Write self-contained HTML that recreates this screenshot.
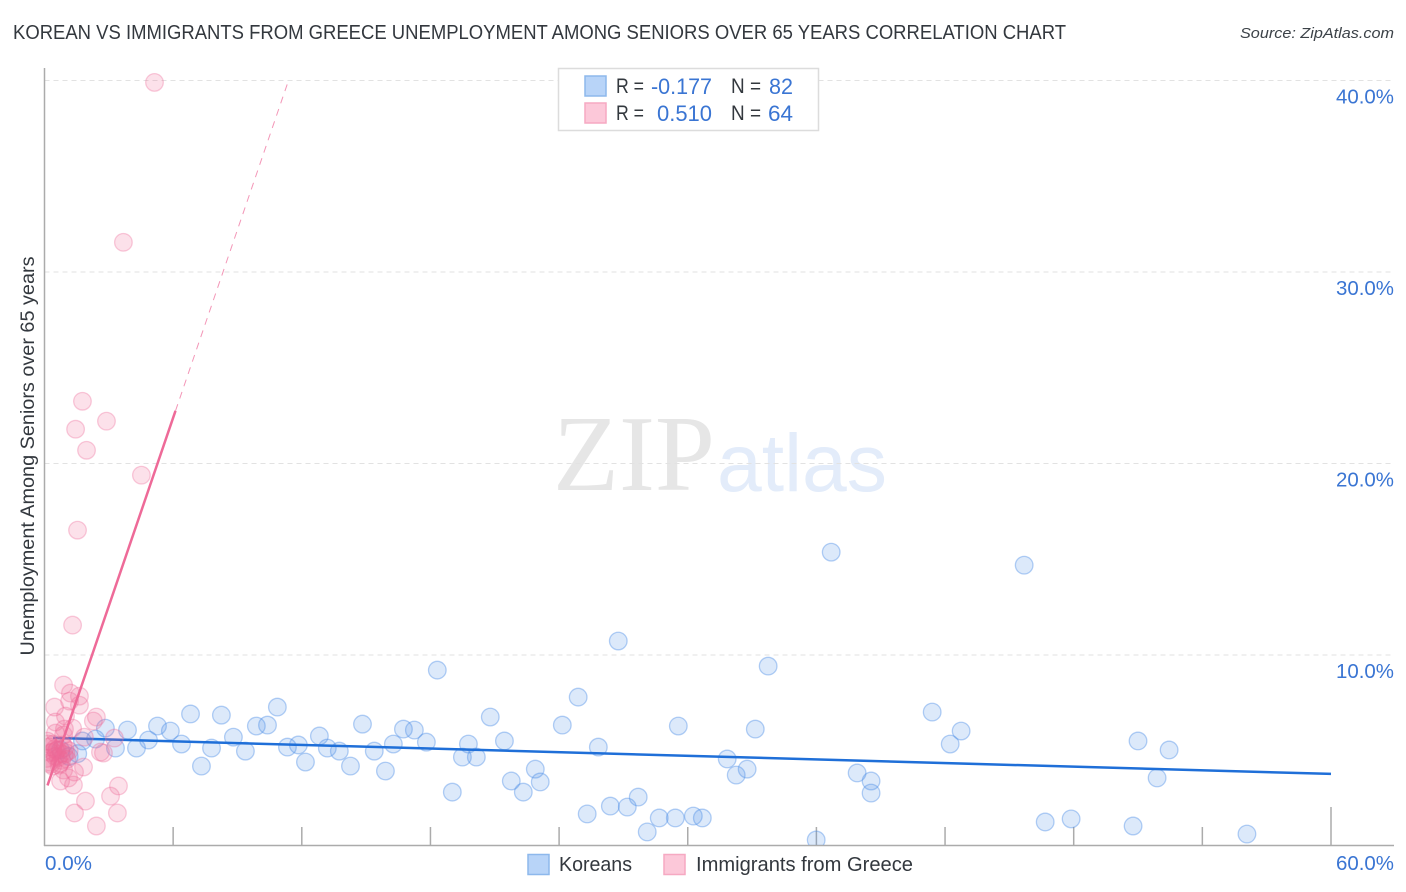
<!DOCTYPE html>
<html>
<head>
<meta charset="utf-8">
<title>Korean vs Immigrants from Greece Unemployment Correlation Chart</title>
<style>
html,body{margin:0;padding:0;background:#fff;width:1406px;height:892px;overflow:hidden}
svg{display:block;font-family:"Liberation Sans",sans-serif}
</style>
</head>
<body>
<svg id="chart" width="1406" height="892" viewBox="0 0 1406 892" xmlns="http://www.w3.org/2000/svg">
  <defs>
    <clipPath id="plot-clip"><rect x="45.5" y="60" width="1350" height="785"/></clipPath>
  </defs>
  <text x="13" y="39" font-size="20" fill="#33383e" textLength="1053" lengthAdjust="spacingAndGlyphs">KOREAN VS IMMIGRANTS FROM GREECE UNEMPLOYMENT AMONG SENIORS OVER 65 YEARS CORRELATION CHART</text>
  <text x="1394" y="38" font-size="15" font-style="italic" fill="#3c4248" text-anchor="end" textLength="154" lengthAdjust="spacingAndGlyphs">Source: ZipAtlas.com</text>
  <g>
    <text x="553" y="490" font-family="Liberation Serif" font-size="108" fill="#e6e6e6" textLength="162" lengthAdjust="spacingAndGlyphs">ZIP</text>
    <text x="717" y="491" font-size="82" fill="#e3ecfa" textLength="170" lengthAdjust="spacingAndGlyphs">atlas</text>
  </g>
  <g id="grid"></g>
  <g id="axes"></g>
  <g id="marks" clip-path="url(#plot-clip)"></g>
  <g>
    <rect x="558.5" y="68.5" width="260" height="62" fill="#fff" stroke="#dcdcdc" stroke-width="1.5"/>
    <rect x="585" y="76" width="21" height="20" fill="#b8d4f8" stroke="#8db8ec" stroke-width="1.5"/>
    <rect x="585" y="103" width="21" height="20" fill="#fcc8d9" stroke="#f6a9c2" stroke-width="1.5"/>
    <g font-size="21" fill="#33383e">
      <text x="616" y="93" textLength="28" lengthAdjust="spacingAndGlyphs">R =</text>
      <text x="616" y="120" textLength="28" lengthAdjust="spacingAndGlyphs">R =</text>
      <text x="731" y="93" textLength="30" lengthAdjust="spacingAndGlyphs">N =</text>
      <text x="731" y="120" textLength="30" lengthAdjust="spacingAndGlyphs">N =</text>
    </g>
    <g font-size="22" fill="#3a75d3">
      <text x="651" y="94" textLength="61" lengthAdjust="spacingAndGlyphs">-0.177</text>
      <text x="657" y="121" textLength="55" lengthAdjust="spacingAndGlyphs">0.510</text>
      <text x="769" y="94" textLength="24" lengthAdjust="spacingAndGlyphs">82</text>
      <text x="768" y="121" textLength="25" lengthAdjust="spacingAndGlyphs">64</text>
    </g>
  </g>
  <g>
    <rect x="528" y="854.5" width="21" height="20" fill="#b8d4f8" stroke="#8db8ec" stroke-width="1.5"/>
    <text x="559" y="871" font-size="20" fill="#33383e" textLength="73" lengthAdjust="spacingAndGlyphs">Koreans</text>
    <rect x="664" y="854.5" width="21" height="20" fill="#fcc8d9" stroke="#f6a9c2" stroke-width="1.5"/>
    <text x="696" y="871" font-size="20" fill="#33383e" textLength="217" lengthAdjust="spacingAndGlyphs">Immigrants from Greece</text>
  </g>
  <text transform="translate(34,456) rotate(-90)" text-anchor="middle" font-size="19" fill="#33383e" textLength="399" lengthAdjust="spacingAndGlyphs">Unemployment Among Seniors over 65 years</text>
</svg>
<script>
// Chart data: percentages
const yTickValues = [10, 20, 30, 40];
const yTickLabels = ["10.0%", "20.0%", "30.0%", "40.0%"];
const xTickValues = [6, 12, 18, 24, 30, 36, 42, 48, 54, 60];
const xEndLabels = ["0.0%", "60.0%"];

const koreansX = [36.69,45.69,26.76,18.32,33.75,24.89,10.86,6.81,8.25,20.79,41.40,42.75,14.83,24.15,29.56,33.15,16.74,17.25,10.40,9.88,5.27,3.87,2.84,5.87,8.81,12.82,4.85,2.38,1.77,6.39,7.79,4.29,3.31,9.37,11.33,11.84,13.19,13.75,15.38,16.27,17.81,19.77,21.45,25.83,42.24,51.0,52.45,31.84,19.49,20.14,12.17,14.27,7.32,15.90,22.89,37.90,32.77,32.26,21.77,23.12,51.89,38.55,19.02,22.33,38.55,27.69,26.39,27.18,25.31,30.26,28.67,29.42,30.68,28.11,35.99,46.67,47.88,50.77,56.08,0.75,1.15,1.55];
const koreansY = [15.37,14.69,10.73,9.21,9.42,7.80,7.28,6.92,6.86,6.76,7.02,6.03,6.39,6.34,6.29,6.13,6.13,6.08,6.34,6.29,6.29,6.08,6.18,6.03,5.71,5.77,5.56,5.61,5.51,5.35,5.14,5.14,5.14,4.98,5.19,5.30,5.14,4.98,4.98,5.35,5.45,5.35,5.51,5.19,5.35,5.51,5.04,4.57,4.67,4.67,4.41,4.20,4.20,3.94,4.04,3.84,4.04,3.73,3.42,3.37,3.58,3.42,2.84,2.84,2.79,2.58,2.11,2.06,1.70,1.59,1.49,1.49,1.49,0.76,0.34,1.28,1.44,1.07,0.65,5.04,4.70,4.85];

const greeceX = [5.13,3.68,1.77,2.89,1.45,1.96,4.52,1.54,1.31,0.89,1.21,1.63,1.63,0.47,1.17,0.98,2.42,2.28,0.51,1.31,0.93,0.51,0.89,3.26,1.86,2.75,2.61,1.82,3.45,3.08,1.91,1.40,3.40,2.42,1.35,0.75,1.12,1.40,0.89,0.14,0.22,0.30,0.10,0.42,0.60,0.25,0.50,0.78,0.95,0.72,0.38,1.05,0.18,0.55,0.85,0.64,0.40,0.30,0.80,0.48,0.92,1.00,0.68,1.15];
const greeceY = [39.90,31.55,23.25,22.21,21.79,20.69,19.39,16.52,11.56,8.43,8.01,7.85,7.38,7.28,7.59,6.81,6.76,6.55,6.50,6.18,6.13,5.92,5.82,5.66,5.71,4.88,4.93,4.15,3.16,2.63,2.37,1.75,1.75,1.07,3.21,3.42,3.58,3.89,3.99,5.50,5.20,4.90,4.60,5.35,5.05,4.40,4.70,4.85,5.15,4.35,4.20,4.55,5.35,5.00,5.30,4.65,4.95,4.30,4.50,5.10,4.80,4.90,4.25,5.00];

const koreansTrendX = [0.4, 60];
const koreansTrendY = [5.67, 3.79];
const greeceTrendX = [0.14, 6.11];
const greeceTrendY = [3.19, 22.75];
const greeceDashX = [6.11, 11.38];
const greeceDashY = [22.75, 40.0];

const NS = "http://www.w3.org/2000/svg";
function xScale(v) { return 44.5 + v * (1331 - 44.5) / 60; }
function yScale(v) { return 846.5 - v * 19.15; }

function mk(tag, attrs, parent) {
  const el = document.createElementNS(NS, tag);
  for (const k in attrs) el.setAttribute(k, attrs[k]);
  parent.appendChild(el);
  return el;
}

const grid = document.getElementById("grid");
const axes = document.getElementById("axes");
const marks = document.getElementById("marks");

yTickValues.forEach(function (v, i) {
  const line = mk("line", { x1: 44.5, x2: 1394, y1: yScale(v), y2: yScale(v), stroke: "#e2e2e2", "stroke-width": 1, "stroke-dasharray": "5 4" }, grid);
  
  
  const label = mk("text", { x: 1394, y: yScale(v) + 23, "text-anchor": "end", "font-size": 20, fill: "#3a75d3", textLength: 58, lengthAdjust: "spacingAndGlyphs" }, axes);
  
  
  label.textContent = yTickLabels[i];
});

const yAxis = mk("line", { x1: 44.5, x2: 44.5, y1: 68, y2: 846, stroke: "#ababab", "stroke-width": 1.5 }, axes);


const xAxis = mk("line", { x1: 44, x2: 1394, y1: 845.5, y2: 845.5, stroke: "#ababab", "stroke-width": 1.5 }, axes);



xTickValues.forEach(function (v) {
  const isLast = v === xTickValues[xTickValues.length - 1];
  const tick = mk("line", { x1: xScale(v), x2: xScale(v), y1: 845.5, y2: isLast ? 807 : 827, stroke: "#ababab", "stroke-width": 1.5 }, axes);
  
  
});

const x0 = mk("text", { x: 45, y: 870, "font-size": 20, fill: "#3a75d3", textLength: 47, lengthAdjust: "spacingAndGlyphs" }, axes);


x0.textContent = xEndLabels[0];
const x1 = mk("text", { x: 1394, y: 870, "text-anchor": "end", "font-size": 20, fill: "#3a75d3", textLength: 58, lengthAdjust: "spacingAndGlyphs" }, axes);


x1.textContent = xEndLabels[1];

koreansX.forEach(function (v, i) {
  const c = mk("circle", { cx: xScale(v), cy: yScale(koreansY[i]), r: 8.8, fill: "#4f90e6", "fill-opacity": 0.2, stroke: "#4f90e6", "stroke-opacity": 0.42, "stroke-width": 1.3 }, marks);
  
  
});

const kt = mk("line", { x1: xScale(koreansTrendX[0]), y1: yScale(koreansTrendY[0]), x2: xScale(koreansTrendX[1]), y2: yScale(koreansTrendY[1]), stroke: "#1f6fd8", "stroke-width": 2.5 }, marks);



greeceX.forEach(function (v, i) {
  const c = mk("circle", { cx: xScale(v), cy: yScale(greeceY[i]), r: 8.8, fill: "#ee6a98", "fill-opacity": 0.2, stroke: "#ee6a98", "stroke-opacity": 0.34, "stroke-width": 1.3 }, marks);
  
  
});

const gt = mk("line", { x1: xScale(greeceTrendX[0]), y1: yScale(greeceTrendY[0]), x2: xScale(greeceTrendX[1]), y2: yScale(greeceTrendY[1]), stroke: "#ee6a98", "stroke-width": 2.5 }, marks);


const gd = mk("line", { x1: xScale(greeceDashX[0]), y1: yScale(greeceDashY[0]), x2: xScale(greeceDashX[1]), y2: yScale(greeceDashY[1]), stroke: "#ee6a98", "stroke-width": 1, "stroke-dasharray": "7 6", "stroke-opacity": 0.7 }, marks);


</script>
</body>
</html>
